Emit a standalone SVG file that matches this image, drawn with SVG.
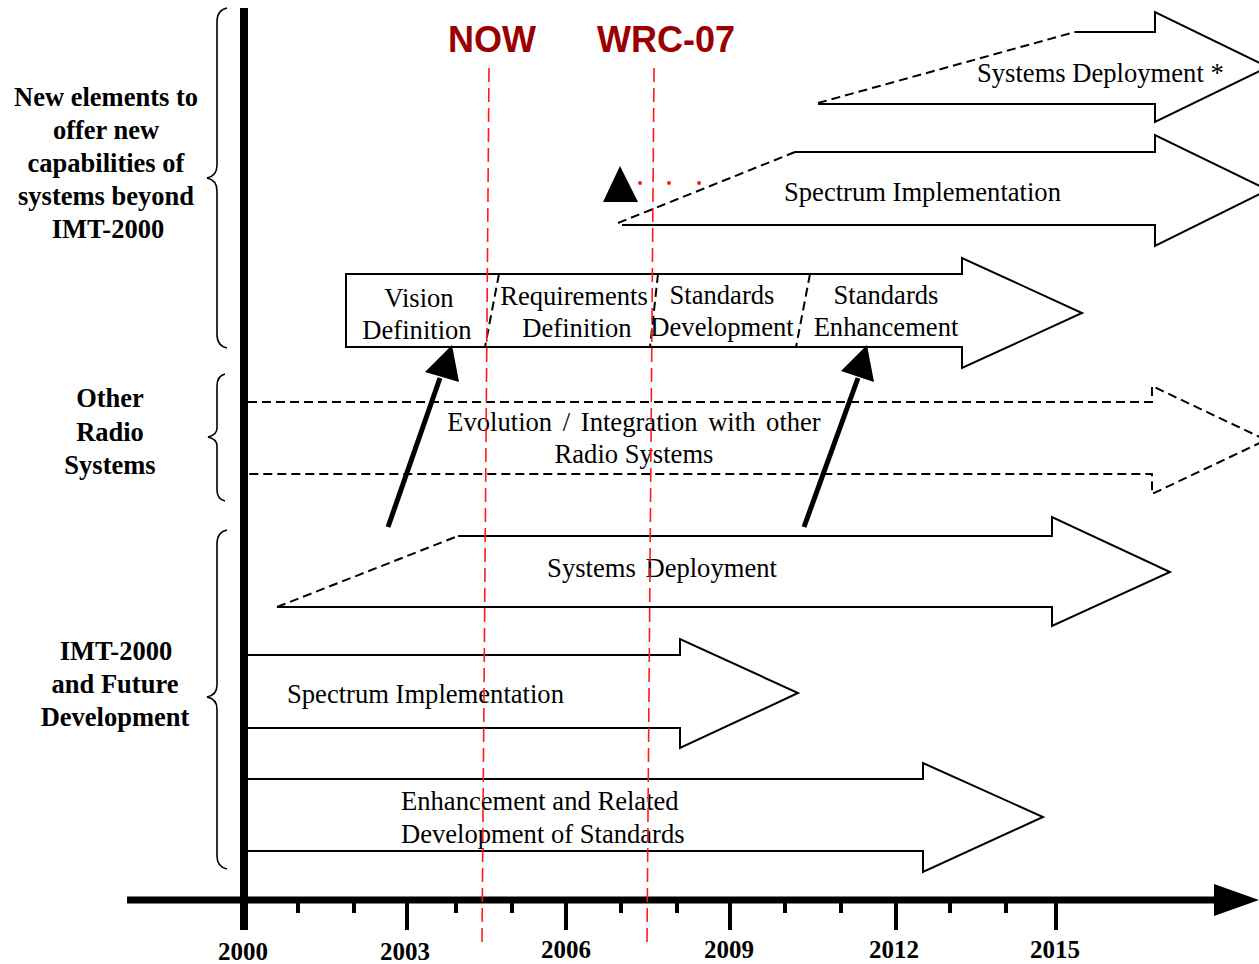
<svg xmlns="http://www.w3.org/2000/svg" width="1259" height="964" viewBox="0 0 1259 964">
<style>
.lbl{font-family:"Liberation Serif","Times New Roman",serif;font-size:26.6px;fill:#000}
.side{font-family:"Liberation Serif","Times New Roman",serif;font-size:26.5px;font-weight:bold;fill:#000;text-anchor:middle}
.yr{font-family:"Liberation Serif","Times New Roman",serif;font-size:25px;font-weight:bold;fill:#000;text-anchor:middle}
.mark{font-family:"Liberation Sans",Arial,sans-serif;font-size:36px;font-weight:bold;fill:#9b0000;text-anchor:middle}
.sol{fill:none;stroke:#000;stroke-width:2}
.dsh{fill:none;stroke:#000;stroke-width:2;stroke-dasharray:9 5}
.red{fill:none;stroke:#ff1a1a;stroke-width:1.6;stroke-dasharray:14 6}
.brace{fill:none;stroke:#000;stroke-width:1.6}
.tick{stroke:#000;stroke-width:4}
.bold{stroke:#000;stroke-width:5;fill:none}
</style>
<rect width="1259" height="964" fill="#fff"/>

<g id="axes">
<line x1="244" y1="8" x2="244" y2="930" stroke="#000" stroke-width="8"/>
<line x1="127" y1="900" x2="1220" y2="900" stroke="#000" stroke-width="7"/>
<polygon points="1214,884 1259,900 1214,916" fill="#000"/>
<g class="tick">
<line x1="407" y1="900" x2="407" y2="930"/>
<line x1="566" y1="900" x2="566" y2="930"/>
<line x1="730" y1="900" x2="730" y2="930"/>
<line x1="896" y1="900" x2="896" y2="930"/>
<line x1="1056" y1="900" x2="1056" y2="930"/>
<line x1="298" y1="900" x2="298" y2="913"/>
<line x1="354" y1="900" x2="354" y2="913"/>
<line x1="456" y1="900" x2="456" y2="913"/>
<line x1="512" y1="900" x2="512" y2="913"/>
<line x1="621" y1="900" x2="621" y2="913"/>
<line x1="677" y1="900" x2="677" y2="913"/>
<line x1="785" y1="900" x2="785" y2="913"/>
<line x1="841" y1="900" x2="841" y2="913"/>
<line x1="950" y1="900" x2="950" y2="913"/>
<line x1="1006" y1="900" x2="1006" y2="913"/>
</g>
<text class="yr" x="243" y="960">2000</text>
<text class="yr" x="405" y="960">2003</text>
<text class="yr" x="566" y="958">2006</text>
<text class="yr" x="729" y="958">2009</text>
<text class="yr" x="894" y="958">2012</text>
<text class="yr" x="1055" y="958">2015</text>
</g>

<g id="braces">
<path class="brace" d="M227,8 Q217,10 217,22 L217,165 Q217,176 207,178 Q217,180 217,191 L217,334 Q217,346 227,348"/>
<path class="brace" d="M225,374 Q217,376 217,386 L217,428 Q217,435 208,437 Q217,439 217,446 L217,490 Q217,499 225,501"/>
<path class="brace" d="M227,530 Q217,532 217,544 L217,685 Q217,695 207,697 Q217,699 217,709 L217,856 Q217,867 227,869"/>
</g>

<g id="side-labels">
<text class="side" x="106" y="106">New elements to</text>
<text class="side" x="106" y="139">offer new</text>
<text class="side" x="106" y="172">capabilities of</text>
<text class="side" x="106" y="205">systems beyond</text>
<text class="side" x="108" y="238">IMT-2000</text>
<text class="side" x="110" y="407">Other</text>
<text class="side" x="110" y="441">Radio</text>
<text class="side" x="110" y="474">Systems</text>
<text class="side" x="116" y="660">IMT-2000</text>
<text class="side" x="115" y="693">and Future</text>
<text class="side" x="115" y="726">Development</text>
</g>

<g id="sys-deploy-future">
<line class="dsh" x1="818" y1="103" x2="1075" y2="32"/>
<path class="sol" d="M1075,32 L1155,32 L1155,12 L1268,67 L1155,122 L1155,104 L818,104"/>
<text class="lbl" x="977" y="82">Systems Deployment *</text>
</g>

<g id="spectrum-future">
<line class="dsh" x1="618" y1="223" x2="795" y2="152"/>
<path class="sol" d="M795,152 L1155,152 L1155,135 L1268,190 L1155,246 L1155,225 L622,225"/>
<text class="lbl" x="784" y="201">Spectrum Implementation</text>
<polygon points="603,202 620,166 638,202" fill="#000"/>
<circle cx="640" cy="183" r="2" fill="#ff1a1a"/>
<circle cx="669" cy="183" r="2" fill="#ff1a1a"/>
<circle cx="699" cy="183" r="2" fill="#ff1a1a"/>
</g>

<g id="phases">
<path class="sol" d="M346,274 L962,274 L962,258 L1082,313 L962,368 L962,347 L346,347 Z"/>
<line class="dsh" x1="499" y1="274" x2="485" y2="347"/>
<line class="dsh" x1="658" y1="274" x2="650" y2="347"/>
<line class="dsh" x1="810" y1="274" x2="796" y2="347"/>
<text class="lbl" x="419" y="307" text-anchor="middle">Vision</text>
<text class="lbl" x="417" y="339" text-anchor="middle">Definition</text>
<text class="lbl" x="574" y="305" text-anchor="middle">Requirements</text>
<text class="lbl" x="577" y="337" text-anchor="middle">Definition</text>
<text class="lbl" x="722" y="304" text-anchor="middle">Standards</text>
<text class="lbl" x="722" y="336" text-anchor="middle">Development</text>
<text class="lbl" x="886" y="304" text-anchor="middle">Standards</text>
<text class="lbl" x="886" y="336" text-anchor="middle">Enhancement</text>
</g>

<g id="evolution">
<path class="dsh" d="M248,402 L1152,402 L1152,386 L1266,440 L1152,494 L1152,474 L248,474"/>
<text class="lbl" x="634" y="431" text-anchor="middle" word-spacing="4">Evolution / Integration with other</text>
<text class="lbl" x="634" y="463" text-anchor="middle">Radio Systems</text>
</g>

<g id="sys-deploy">
<line class="dsh" x1="277" y1="607" x2="458" y2="536"/>
<path class="sol" d="M458,536 L1052,536 L1052,517 L1170,572 L1052,626 L1052,607 L277,607"/>
<text class="lbl" x="662" y="577" text-anchor="middle" word-spacing="3">Systems Deployment</text>
</g>

<g id="spectrum">
<path class="sol" d="M248,655 L680,655 L680,639 L798,693 L680,748 L680,728 L248,728"/>
<text class="lbl" x="287" y="703">Spectrum Implementation</text>
</g>

<g id="enhancement">
<path class="sol" d="M248,779 L923,779 L923,763 L1043,817 L923,872 L923,851 L248,851"/>
<text class="lbl" x="401" y="810">Enhancement and Related</text>
<text class="lbl" x="401" y="843">Development of Standards</text>
</g>

<g id="milestones">
<line class="red" x1="489" y1="68" x2="482" y2="942"/>
<line class="red" x1="654" y1="68" x2="647" y2="942"/>
<text class="mark" x="492" y="52">NOW</text>
<text class="mark" x="666" y="52">WRC-07</text>
</g>

<g id="connectors">
<line class="bold" x1="388" y1="527" x2="440" y2="378"/>
<polygon points="425,372 459,382 452,345" fill="#000"/>
<line class="bold" x1="804" y1="527" x2="858" y2="378"/>
<polygon points="841,371 874,382 867,345" fill="#000"/>
</g>
</svg>
